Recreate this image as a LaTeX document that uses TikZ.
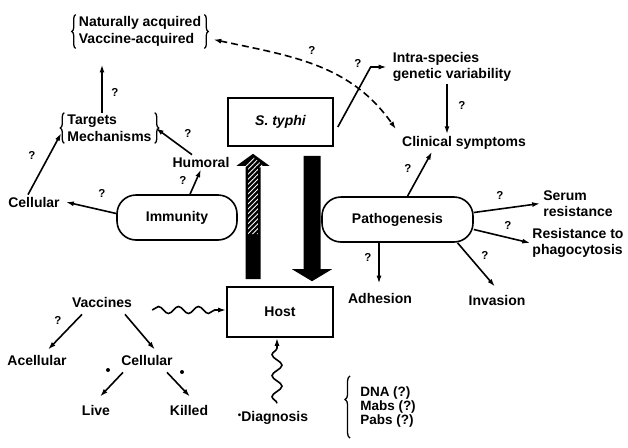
\documentclass[tikz,border=0pt]{standalone}
\usepackage{fontspec}
\setmainfont{Liberation Sans}
\usetikzlibrary{arrows.meta,decorations.pathreplacing,decorations.pathmorphing,patterns.meta,calc}
\begin{document}
\begin{tikzpicture}[x=1pt,y=-1pt,
  every node/.style={font=\fontsize{14}{16.5}\selectfont\bfseries, inner sep=2pt},
  q/.style={font=\fontsize{11.5}{12}\selectfont\bfseries, inner sep=0pt},
  dot/.style={circle, fill, inner sep=0pt, minimum size=4pt},
  arr/.style={line width=1.6pt, -{Latex[length=8pt,width=5pt]}},
  darr/.style={line width=1.6pt, dash pattern=on 7pt off 4pt, {Latex[length=8pt,width=5pt]}-{Latex[length=8pt,width=5pt]}},
  box/.style={draw, line width=1.6pt},
  rbox/.style={draw, line width=1.6pt, rounded corners=19pt, minimum height=45pt},
  brc/.style={decorate, decoration={brace, amplitude=4pt}, line width=1.3pt},
  wav/.style={line width=1.6pt, -{Latex[length=8pt,width=5pt]}, decorate, decoration={snake, amplitude=3.5pt, segment length=20pt, post length=8pt}},
]
\useasboundingbox (0,0) rectangle (628,447);

% nodes
\node[align=left] (nat) at (140,31.5) {Naturally acquired\\Vaccine-acquired};
\node[align=left] (tm) at (109.5,128) {Targets\\Mechanisms};
\node (hum) at (201,162) {Humoral};
\node (cel) at (34,202) {Cellular};
\node[rbox, minimum width=120pt] (imm) at (177,217.5) {Immunity};
\node[box, minimum width=105pt, minimum height=48pt] (sty) at (280.5,122) {\itshape S. typhi};
\node[box, minimum width=106pt, minimum height=50pt] (host) at (280,312) {Host};
\node[rbox, minimum width=151pt] (path) at (397.5,219.5) {Pathogenesis};
\node[align=left] (intra) at (452,67) {Intra-species\\genetic variability};
\node (clin) at (464,143) {Clinical symptoms};
\node[align=left] (serum) at (578,203.5) {Serum\\resistance};
\node[align=left] (resph) at (578,243) {Resistance to\\phagocytosis};
\node (inv) at (497,300) {Invasion};
\node (adh) at (380,298) {Adhesion};
\node (vac) at (102,302) {Vaccines};
\node (acel) at (37,360) {Acellular};
\node (cel2) at (147,360) {Cellular};
\node (live) at (96,410) {Live};
\node (killed) at (189,410) {Killed};
\node (diag) at (273,418) {\raisebox{3pt}{\scalebox{0.7}{\textbullet}}Diagnosis};
\node[align=left, font=\fontsize{13.5}{12.5}\selectfont\bfseries] (dna) at (388,407) {DNA (?)\\Mabs (?)\\Pabs (?)};

% braces
\draw[brc] ([xshift=-1pt]nat.south west) -- ([xshift=-1pt]nat.north west);
\draw[brc] ([xshift=1pt]nat.north east) -- ([xshift=1pt]nat.south east);
\draw[brc] ([xshift=-1pt]tm.south west) -- ([xshift=-1pt]tm.north west);
\draw[brc] ([xshift=1pt]tm.north east) -- ([xshift=1pt]tm.south east);
\draw[brc, decoration={brace, amplitude=5pt, aspect=0.62}] ($(dna.south west)+(-8pt,-9pt)$) -- ($(dna.north west)+(-8pt,9pt)$);

% big arrows
\coordinate (ua) at ([xshift=-27pt,yshift=7pt]host.north);
\coordinate (ub) at ([yshift=-7pt]ua |- sty.south);
\fill[black] ($(ua)+(-7.5pt,0)$) -- ($(ub)+(-7.5pt,-12pt)$) -- ($(ub)+(-16.5pt,-12pt)$) -- (ub) -- ($(ub)+(16.5pt,-12pt)$) -- ($(ub)+(7.5pt,-12pt)$) -- ($(ua)+(7.5pt,0)$) -- cycle;
\fill[pattern={Lines[angle=45,distance=3.5pt,line width=0.9pt]}, pattern color=white] ($(ua)+(-5pt,45pt)$) -- ($(ub)+(-5pt,-13.5pt)$) -- ($(ub)+(-12pt,-13.5pt)$) -- ($(ub)+(0,-3pt)$) -- ($(ub)+(12pt,-13.5pt)$) -- ($(ub)+(5pt,-13.5pt)$) -- ($(ua)+(5pt,45pt)$) -- cycle;
\coordinate (da) at ([xshift=31.5pt,yshift=-9pt]sty.south);
\coordinate (db) at ([yshift=5pt]da |- host.north);
\fill[black] ($(da)+(-8.5pt,0)$) -- ($(db)+(-8.5pt,12pt)$) -- ($(db)+(-20pt,12pt)$) -- (db) -- ($(db)+(20pt,12pt)$) -- ($(db)+(8.5pt,12pt)$) -- ($(da)+(8.5pt,0)$) -- cycle;

% connectors
\draw[arr] ([xshift=-7.5pt]tm.north) -- ([xshift=-38pt,yshift=-16pt]nat.south);
\draw[arr] ([xshift=-9pt]hum.north) -- ([xshift=2pt]tm.east);
\draw[arr] ([xshift=13pt]imm.north) -- (hum.south);
\draw[arr] ([yshift=4pt]imm.west) -- ([xshift=4pt]cel.east);
\draw[arr] ([xshift=-6pt]cel.north) -- ([xshift=-4pt,yshift=-5pt]tm.west);
\draw[darr] ([xshift=10pt,yshift=-8pt]nat.east) to[out=-12,in=125] ([xshift=-4pt,yshift=5pt]clin.north west);
\draw[arr] ([xshift=4pt,yshift=-5pt]sty.east) -- ([xshift=-20pt]intra.west) -- ([xshift=-4pt]intra.west);
\draw[arr] ([xshift=-5pt]intra.south) -- ([xshift=-17pt]clin.north);
\draw[arr] ([xshift=10pt]path.north) -- ([xshift=-32pt]clin.south);
\draw[arr] ([yshift=7pt]path.east) -- ([xshift=-1pt]serum.west);
\draw[arr] ([yshift=-10pt]path.east) -- (resph.west);
\draw[arr] ([xshift=60pt]path.south) -- ([xshift=-2pt,yshift=6pt]inv.north);
\draw[arr] ([xshift=-18.5pt]path.south) -- ([xshift=-1pt,yshift=7pt]adh.north);
\draw[arr] ([xshift=-20pt,yshift=-5pt]vac.south) -- ([xshift=11pt,yshift=3pt]acel.north);
\draw[arr] ([xshift=23pt,yshift=-5pt]vac.south) -- ([xshift=8pt,yshift=3pt]cel2.north);
\draw[arr] ([xshift=-24pt,yshift=-5pt]cel2.south) -- ([xshift=4pt,yshift=6pt]live.north);
\draw[arr] ([xshift=20pt,yshift=-5pt]cel2.south) -- ([xshift=1pt,yshift=6pt]killed.north);
\draw[wav] ([xshift=18pt,yshift=-8pt]vac.east) -- ([yshift=2pt]host.west);
\draw[wav, decoration={snake, amplitude=5pt, segment length=21pt, post length=8pt}] ([xshift=4pt,yshift=6pt]diag.north) -- ([xshift=-3pt]host.south);

% question marks and bullets
\node[q] (q1) at (115,92) {?};
\node[q] (q2) at (188,133) {?};
\node[q] (q3) at (183,180) {?};
\node[q] (q4) at (102,193) {?};
\node[q] (q5) at (32,155) {?};
\node[q] (q6) at (312,50) {?};
\node[q] (q7) at (358,63) {?};
\node[q] (q8) at (462,105) {?};
\node[q] (q9) at (408,168) {?};
\node[q] (q10) at (500,195) {?};
\node[q] (q11) at (508,225) {?};
\node[q] (q12) at (485,255) {?};
\node[q] (q13) at (368,257) {?};
\node[q] (q14) at (58,320) {?};
\node[dot] (b1) at (108,370) {};
\node[dot] (b2) at (182,372) {};
\end{tikzpicture}
\end{document}
